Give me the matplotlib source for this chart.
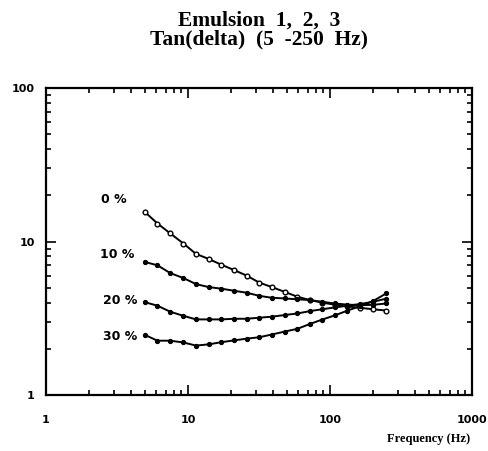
import numpy as np
import matplotlib
matplotlib.use("Agg")
import matplotlib.pyplot as plt
from matplotlib.ticker import LogLocator, NullFormatter, FixedLocator, FixedFormatter

# ---- data ----
freq = [5.0, 6.1, 7.5, 9.3, 11.4, 14.0, 17.2, 21.1, 25.9, 31.8, 39.0,
        48.0, 59.0, 72.0, 88.0, 108.0, 133.0, 164.0, 202.0, 250.0]
tan_0 = [15.5, 13.1, 11.3, 9.7, 8.3, 7.7, 7.06, 6.52, 6.0, 5.4, 5.05,
         4.7, 4.37, 4.16, 4.0, 3.88, 3.78, 3.7, 3.62, 3.55]
tan_10 = [7.35, 7.0, 6.23, 5.78, 5.28, 5.05, 4.93, 4.78, 4.64, 4.43, 4.3,
          4.26, 4.2, 4.16, 4.05, 3.95, 3.88, 3.85, 3.87, 3.95]
tan_20 = [4.02, 3.82, 3.49, 3.28, 3.11, 3.11, 3.11, 3.14, 3.14, 3.19, 3.24,
          3.32, 3.4, 3.52, 3.62, 3.72, 3.82, 3.92, 4.05, 4.25]
tan_30 = [2.46, 2.26, 2.26, 2.2, 2.1, 2.14, 2.21, 2.27, 2.33, 2.38, 2.48,
          2.59, 2.7, 2.9, 3.1, 3.3, 3.55, 3.8, 4.1, 4.6]
series_labels = ["0 %", "10 %", "20 %", "30 %"]
x_ticks = [1, 10, 100, 1000]
x_tick_labels = ["1", "10", "100", "1000"]
y_ticks = [1, 10, 100]
y_tick_labels = ["1", "10", "100"]

fig = plt.figure(figsize=(4.89, 4.51), dpi=100)
ax = fig.add_axes([0.094, 0.124, 0.871, 0.681])

series = [tan_0, tan_10, tan_20, tan_30]
for i, vals in enumerate(series):
    if i == 0:
        ax.plot(freq, vals, color="black", lw=1.4, marker="o", ms=3.4,
                mfc="white", mec="black", mew=1.0)
    else:
        ax.plot(freq, vals, color="black", lw=1.4, marker="o", ms=2.8,
                mfc="black", mec="black")

# labels of the series
label_pos = [(3.7, 18.9), (4.2, 8.2), (4.4, 4.16), (4.4, 2.39)]
for lab, (lx, ly) in zip(series_labels, label_pos):
    ax.text(lx, ly, lab, ha="right", va="center", fontsize=9,
            fontweight="bold", family="DejaVu Sans")

ax.set_xscale("log")
ax.set_yscale("log")
ax.set_xlim(1, 1000)
ax.set_ylim(1, 100)

ax.xaxis.set_major_locator(FixedLocator(x_ticks))
ax.xaxis.set_major_formatter(FixedFormatter(x_tick_labels))
ax.yaxis.set_major_locator(FixedLocator(y_ticks))
ax.yaxis.set_major_formatter(FixedFormatter(y_tick_labels))
ax.xaxis.set_minor_locator(LogLocator(base=10, subs=np.arange(2, 10)))
ax.yaxis.set_minor_locator(LogLocator(base=10, subs=np.arange(2, 10)))
ax.xaxis.set_minor_formatter(NullFormatter())
ax.yaxis.set_minor_formatter(NullFormatter())

ax.tick_params(which="both", direction="in", top=True, right=True,
               width=1.2, colors="black")
ax.tick_params(which="major", length=7)
ax.tick_params(which="minor", length=3.5)
ax.tick_params(axis="x", which="major", pad=14)
ax.tick_params(axis="y", which="major", pad=8)
for lab in ax.get_xticklabels() + ax.get_yticklabels():
    lab.set_fontweight("bold")
    lab.set_fontsize(8)
    lab.set_family("DejaVu Sans")

for sp in ax.spines.values():
    sp.set_linewidth(1.6)

ax.set_title("Emulsion  1,  2,  3\nTan(delta)  (5  -250  Hz)",
             fontsize=15.5, fontweight="bold", family="Liberation Serif",
             pad=31, linespacing=0.95)

fig.text(0.962, 0.027, "Frequency (Hz)", ha="right", va="center",
         fontsize=9, fontweight="bold", family="Liberation Serif")

fig.savefig("out.png", dpi=100)
